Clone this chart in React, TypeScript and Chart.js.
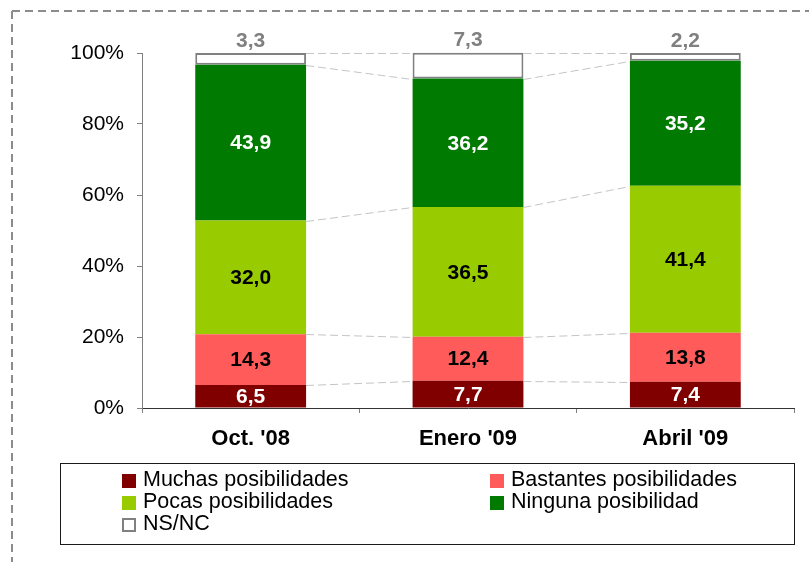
import React, { useEffect, useRef } from "react";
import { Chart, registerables } from "chart.js";

Chart.register(...registerables);

// ---- data ----
const categories = ["Oct. '08", "Enero '09", "Abril '09"];
const muchas = [6.5, 7.7, 7.4];
const bastantes = [14.3, 12.4, 13.8];
const pocas = [32.0, 36.5, 41.4];
const ninguna = [43.9, 36.2, 35.2];
const nsnc = [3.3, 7.3, 2.2];
const seriesNames = [
  "Muchas posibilidades",
  "Bastantes posibilidades",
  "Pocas posibilidades",
  "Ninguna posibilidad",
  "NS/NC",
];
const yTicks = [0, 20, 40, 60, 80, 100];

// ---- styles ----
const FONT = "'Liberation Sans', Arial, Helvetica, sans-serif";
const fills = ["#800000", "#FF5B5B", "#99CC00", "#007A00", "#FFFFFF"];
const borders = ["#800000", "#FF5B5B", "#99CC00", "#007A00", "#808080"];
const labelColors = ["#FFFFFF", "#000000", "#000000", "#FFFFFF", "#808080"];

const fmt = (v: number) => v.toFixed(1).replace(".", ",");

const framePlugin = {
  id: "frame",
  beforeDraw(chart: any) {
    const ctx = chart.ctx;
    ctx.save();
    ctx.strokeStyle = "#8C8C8C";
    ctx.lineWidth = 2;
    ctx.setLineDash([8, 5]);
    ctx.beginPath();
    ctx.moveTo(12, 11);
    ctx.lineTo(900, 11);
    ctx.moveTo(12, 11);
    ctx.lineTo(12, 700);
    ctx.stroke();
    ctx.restore();
  },
};

const seriesLinesPlugin = {
  id: "seriesLines",
  afterDatasetsDraw(chart: any) {
    const ctx = chart.ctx;
    ctx.save();
    ctx.strokeStyle = "#C4C4C4";
    ctx.lineWidth = 1;
    ctx.setLineDash([8, 4]);
    chart.data.datasets.forEach((_: any, di: number) => {
      const meta = chart.getDatasetMeta(di);
      for (let j = 0; j < meta.data.length - 1; j++) {
        const a = meta.data[j];
        const b = meta.data[j + 1];
        ctx.beginPath();
        ctx.moveTo(a.x + a.width / 2, Math.round(a.y) + 0.5);
        ctx.lineTo(b.x - b.width / 2, Math.round(b.y) + 0.5);
        ctx.stroke();
      }
    });
    ctx.restore();
  },
};

const labelsPlugin = {
  id: "segLabels",
  afterDatasetsDraw(chart: any) {
    const ctx = chart.ctx;
    ctx.save();
    ctx.font = `bold 21px ${FONT}`;
    ctx.textAlign = "center";
    ctx.textBaseline = "middle";
    chart.data.datasets.forEach((ds: any, di: number) => {
      const meta = chart.getDatasetMeta(di);
      meta.data.forEach((el: any, j: number) => {
        const v = ds.data[j];
        ctx.fillStyle = labelColors[di];
        const y = di === 4 ? el.y - 13 : (el.y + el.base) / 2;
        ctx.fillText(fmt(v), el.x, y + 1);
      });
    });
    ctx.restore();
  },
};

const series = [muchas, bastantes, pocas, ninguna, nsnc];

export default function App() {
  const ref = useRef<HTMLCanvasElement>(null);

  useEffect(() => {
    if (!ref.current) return;
    const chart = new Chart(ref.current, {
      type: "bar",
      data: {
        labels: categories,
        datasets: series.map((d, i) => ({
          label: seriesNames[i],
          data: d,
          backgroundColor: fills[i],
          borderColor: borders[i],
          borderWidth: i === 4 ? 2 : 0,
          borderSkipped: false,
          barPercentage: 0.51,
          categoryPercentage: 1,
          clip: false as any,
        })),
      },
      options: {
        responsive: false,
        animation: false,
        events: [],
        layout: { padding: { top: 53, right: 15, left: 0, bottom: 0 } },
        plugins: {
          legend: { display: false },
          tooltip: { enabled: false },
        },
        scales: {
          x: {
            stacked: true,
            afterFit: (s: any) => {
              s.height = 154;
            },
            grid: {
              display: true,
              drawOnChartArea: false,
              drawTicks: true,
              tickLength: 5,
              color: "#808080",
              offset: true,
            },
            border: { display: true, color: "#333333", width: 1 },
            ticks: {
              color: "#000000",
              font: { family: FONT, size: 22, weight: "bold" },
              padding: 13,
              maxRotation: 0,
            },
          },
          y: {
            stacked: true,
            min: 0,
            max: 100,
            afterBuildTicks: (s: any) => {
              s.ticks = yTicks.map((v) => ({ value: v }));
            },
            afterFit: (s: any) => {
              s.width = 142;
            },
            grid: {
              display: true,
              drawOnChartArea: false,
              drawTicks: true,
              tickLength: 5,
              color: "#808080",
            },
            border: { display: true, color: "#808080", width: 1 },
            ticks: {
              color: "#000000",
              font: { family: FONT, size: 21 },
              padding: 13,
              callback: (v: any) => `${v}%`,
            },
          },
        },
      },
      plugins: [framePlugin, seriesLinesPlugin, labelsPlugin],
    });
    return () => chart.destroy();
  }, []);

  const colX = [122, 490];
  const textX = [143, 511];
  const rowTop = (r: number) => 468.2 + r * 21.9;

  return (
    <div
      style={{
        position: "absolute",
        left: 0,
        top: 0,
        width: 809,
        height: 562,
        background: "#fff",
        overflow: "hidden",
        fontFamily: FONT,
      }}
    >
      <canvas ref={ref} width={809} height={562} style={{ position: "absolute", left: 0, top: 0 }} />
      <div
        style={{
          position: "absolute",
          left: 60,
          top: 463,
          width: 735,
          height: 82,
          boxSizing: "border-box",
          border: "1px solid #1a1a1a",
        }}
      />
      {seriesNames.map((name, i) => {
        const c = i % 2;
        const r = Math.floor(i / 2);
        const top = rowTop(r);
        const hollow = i === 4;
        return (
          <React.Fragment key={name}>
            <div
              style={{
                position: "absolute",
                left: colX[c],
                top: top + 5.8,
                width: 14,
                height: 14,
                boxSizing: "border-box",
                background: fills[i],
                border: hollow ? "2px solid #808080" : "none",
              }}
            />
            <div
              style={{
                position: "absolute",
                left: textX[c],
                top: top,
                fontSize: 21.5,
                lineHeight: "22px",
                color: "#000",
                whiteSpace: "nowrap",
              }}
            >
              {name}
            </div>
          </React.Fragment>
        );
      })}
    </div>
  );
}
